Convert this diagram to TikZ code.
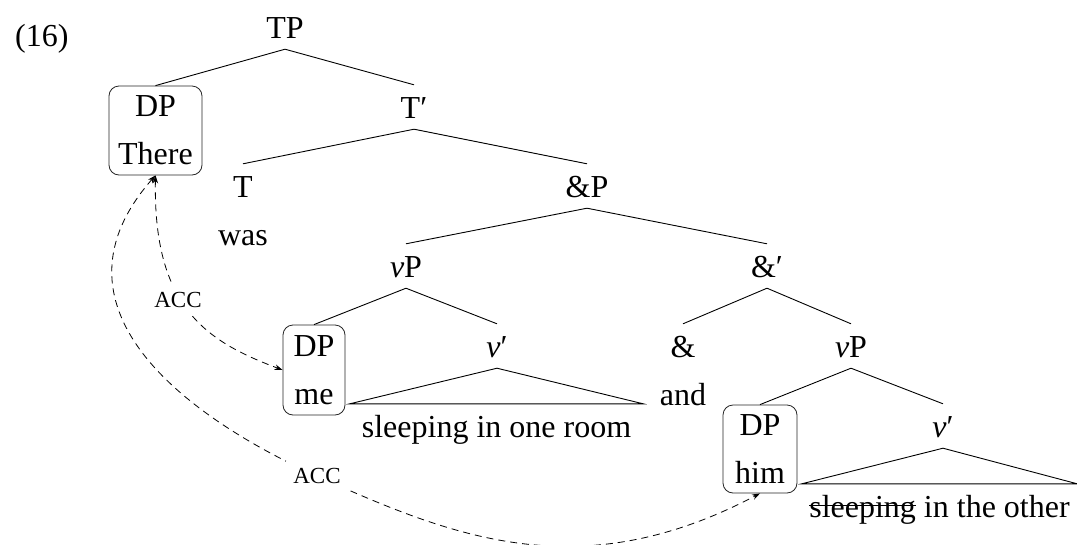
\documentclass[tikz,border=0pt]{standalone}
\usepackage{fontspec}
\setmainfont{Liberation Serif}
\usetikzlibrary{arrows.meta}
\newcommand\strk[1]{\setbox0=\hbox{#1}\rlap{\rule[0.36em]{\wd0}{0.9pt}}\box0\relax}
\begin{document}
\begin{tikzpicture}[x=1pt,y=-1pt,
  lbl/.style={anchor=base, font=\fontsize{32}{38}\selectfont, inner xsep=2pt, inner ysep=11pt, text height=22pt, text depth=0pt},
  dpbox/.style={draw=black!85, line width=0.8pt, rounded corners=10pt, align=center, font=\fontsize{32}{48}\selectfont, inner sep=0pt},
  rooftext/.style={lbl, inner xsep=0pt},
  branch/.style={line width=0.9pt},
  acc/.style={fill=white, inner sep=7pt, font=\fontsize{23}{26}\selectfont},
  move/.style={line width=0.8pt, dash pattern=on 7pt off 5pt, {Stealth[length=8pt,width=5.5pt]}-{Stealth[length=8pt,width=5.5pt]}}]
\useasboundingbox (0,0) rectangle (1077,544);

% example number
\node[lbl, anchor=base west] (ex) at (13,46) {(16)};

% tree nodes
\node[lbl] (TP) at (285,38) {TP};
\node[dpbox, minimum width=93pt, minimum height=89pt] (there) at (155.5,130.5) {DP\\There};
\node[lbl] (Tbar) at (414,118) {T′};
\node[lbl] (T) at (243,197) {T};
\node[lbl] (was) at (243,245) {was};
\node[lbl] (andP) at (587,197) {\&P};
\node[lbl] (vP1) at (406,277) {{\itshape ν}P};
\node[lbl] (andbar) at (767,277) {\&′};
\node[dpbox, minimum width=62pt, minimum height=90pt] (me) at (314,370) {DP\\me};
\node[lbl] (vbar1) at (497,357) {{\itshape ν}′};
\node[rooftext, minimum width=293pt] (roof1) at (496.5,437) {sleeping in one room};
\node[lbl] (amp) at (683,357) {\&};
\node[lbl] (and) at (683,405) {and};
\node[lbl] (vP2) at (851,357) {{\itshape ν}P};
\node[dpbox, minimum width=74pt, minimum height=88pt] (him) at (760,449) {DP\\him};
\node[lbl] (vbar2) at (943,437) {{\itshape ν}′};
\node[rooftext, minimum width=275pt] (roof2) at (939.5,517) {\strk{sleeping} in the other};

% branches
\draw[branch] (TP.south) -- (there.north);
\draw[branch] (TP.south) -- (Tbar.north);
\draw[branch] (Tbar.south) -- (T.north);
\draw[branch] (Tbar.south) -- (andP.north);
\draw[branch] (andP.south) -- (vP1.north);
\draw[branch] (andP.south) -- (andbar.north);
\draw[branch] (vP1.south) -- (me.north);
\draw[branch] (vP1.south) -- (vbar1.north);
\draw[branch] (andbar.south) -- (amp.north);
\draw[branch] (andbar.south) -- (vP2.north);
\draw[branch] (vP2.south) -- (him.north);
\draw[branch] (vP2.south) -- (vbar2.north);
\draw[branch] (vbar1.south) -- (roof1.north west) -- (roof1.north east) -- cycle;
\draw[branch] (vbar2.south) -- (roof2.north west) -- (roof2.north east) -- cycle;

% movement arrows
\coordinate (accpt) at (317,476);
\draw[move] (there.south) .. controls (153,308) and (207,341.6) .. (me.west);
\draw[move] (there.south) .. controls (40.8,305.5) and (180.5,414.5) .. (accpt)
  .. controls (453.5,537.5) and (580,588) .. (him.south);
\node[acc] (acc1) at (178,300) {ACC};
\node[acc] (acc2) at (317,476) {ACC};
\end{tikzpicture}
\end{document}
